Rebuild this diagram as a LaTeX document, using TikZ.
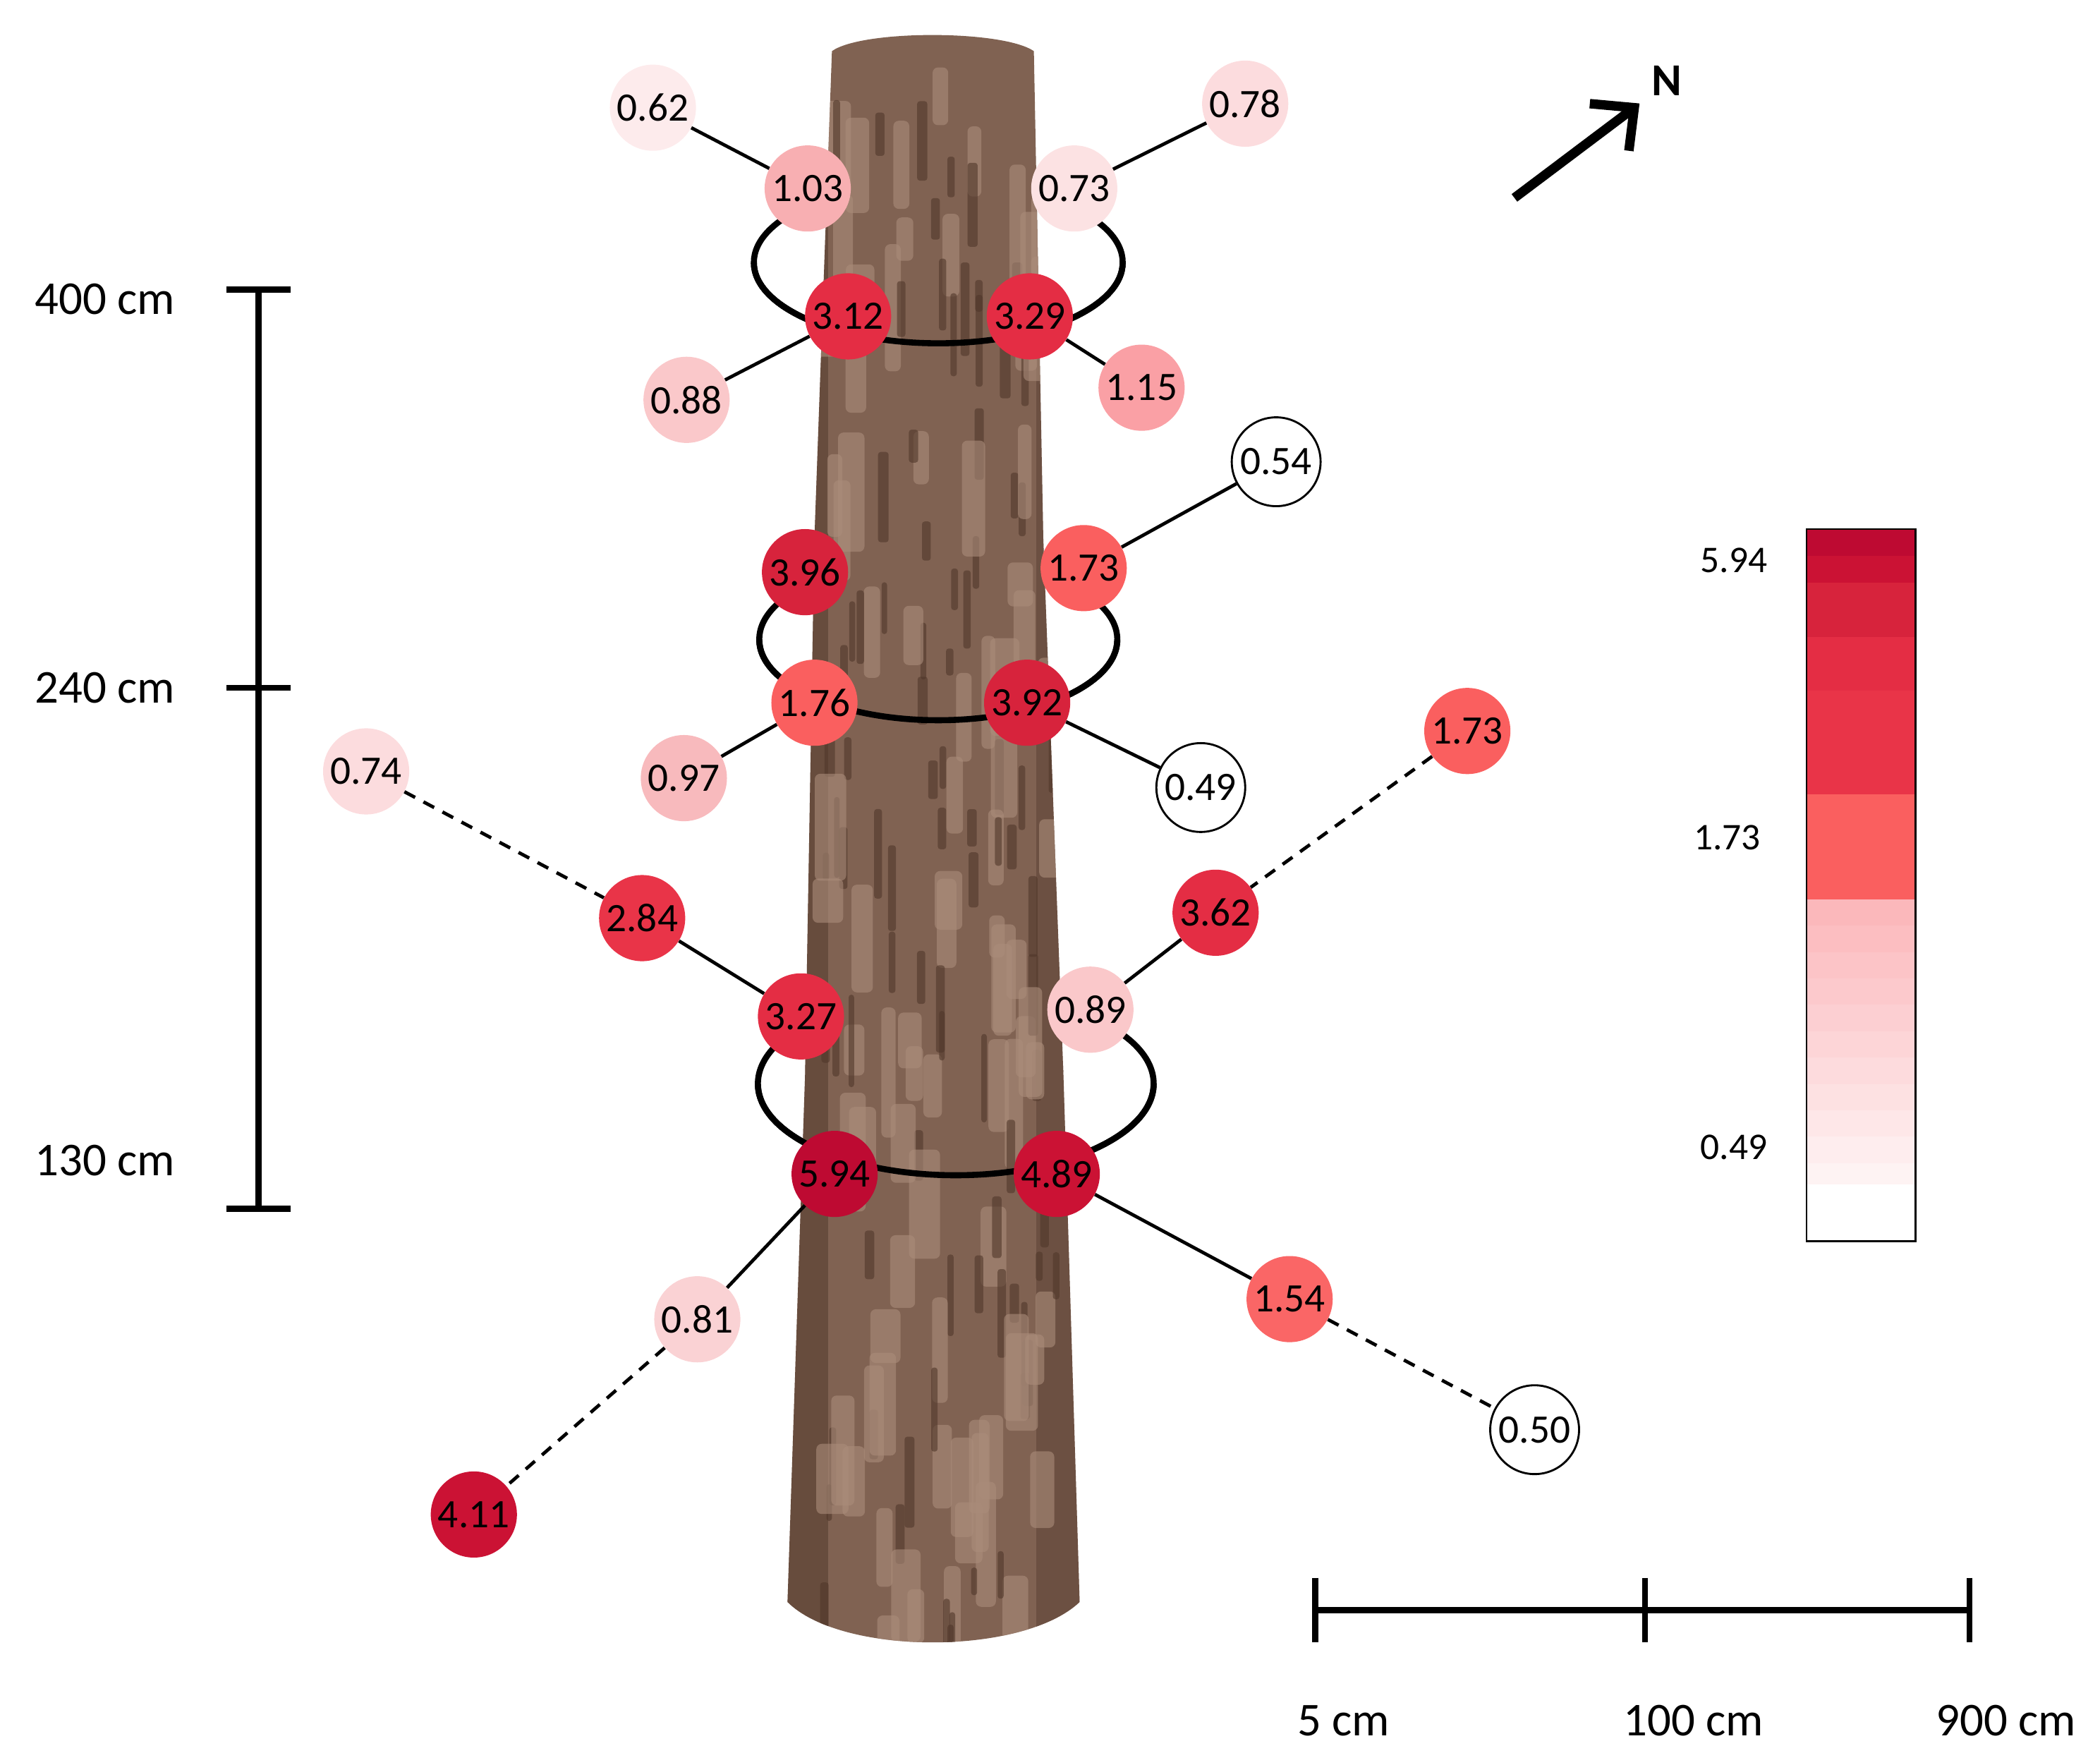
\documentclass[tikz,border=0pt]{standalone}
\usepackage{fontspec}
\setmainfont{Carlito}
\begin{document}
\begin{tikzpicture}[x=1pt,y=-1pt,
  v/.style={circle,minimum size=64pt,inner sep=0pt,font=\fontsize{30}{32}\selectfont},
  wb/.style={v,draw=black,line width=1.5pt,fill=white,minimum size=66pt},
  ln/.style={line width=2.5pt},
  dl/.style={line width=2.5pt,dash pattern=on 9pt off 7pt},
  ring/.style={line width=4.5pt},
  bar/.style={line width=4.5pt},
  lab/.style={font=\fontsize{35}{37}\selectfont}]
\definecolor{c594}{RGB}{190,10,50}
\definecolor{c489}{RGB}{203,18,52}
\definecolor{c39}{RGB}{215,35,60}
\definecolor{c33}{RGB}{228,45,68}
\definecolor{c28}{RGB}{233,52,72}
\definecolor{c17}{RGB}{250,95,95}
\definecolor{c15}{RGB}{250,102,102}
\definecolor{c115}{RGB}{250,160,165}
\definecolor{c103}{RGB}{248,175,178}
\definecolor{c097}{RGB}{248,186,189}
\definecolor{c088}{RGB}{250,200,202}
\definecolor{c081}{RGB}{250,210,212}
\definecolor{c076}{RGB}{252,220,222}
\definecolor{c073}{RGB}{252,226,227}
\definecolor{c062}{RGB}{253,235,236}
\definecolor{bark}{RGB}{128,98,82}
\definecolor{barkd}{RGB}{80,55,42}
\definecolor{barkl}{RGB}{170,140,122}
\useasboundingbox (0,0) rectangle (1560,1302);
% rings back
\draw[ring] (697,195) ellipse (137 and 60);
\draw[ring] (697,475) ellipse (133 and 60);
\draw[ring] (710,805) ellipse (147 and 68);
% trunk
\fill[bark] (618,38) .. controls (640,22) and (745,22) .. (768,38)
  -- (775,400) -- (790,800) -- (802,1190)
  .. controls (760,1230) and (625,1230) .. (585,1190)
  -- (598,800) -- (605,400) -- cycle;
\begin{scope}
\clip (618,38) .. controls (640,22) and (745,22) .. (768,38)
  -- (775,400) -- (790,800) -- (802,1190)
  .. controls (760,1230) and (625,1230) .. (585,1190)
  -- (598,800) -- (605,400) -- cycle;
\fill[barkd,opacity=0.5] (570,0) rectangle (615,1250);
\fill[barkd,opacity=0.4] (770,0) rectangle (815,1250);
\pgfmathsetseed{7}
\foreach \i in {1,...,90}{
  \pgfmathsetmacro{\xx}{600+rnd*190}
  \pgfmathsetmacro{\yy}{30+rnd*1180}
  \pgfmathsetmacro{\hh}{30+rnd*70}
  \fill[barkl,opacity=0.6,rounded corners=4pt] (\xx,\yy) rectangle ++(10+rnd*14,\hh);
  \pgfmathsetmacro{\xd}{600+rnd*190}
  \pgfmathsetmacro{\yd}{30+rnd*1180}
  \fill[barkd,opacity=0.6,rounded corners=2pt] (\xd,\yd) rectangle ++(4+rnd*4,20+rnd*50);
}
\end{scope}
% ring fronts
\draw[ring] (560,195) arc[start angle=180,end angle=0,x radius=137,y radius=60];
\draw[ring] (564,475) arc[start angle=180,end angle=0,x radius=133,y radius=60];
\draw[ring] (563,805) arc[start angle=180,end angle=0,x radius=147,y radius=68];
% nodes
\node[v,fill=c062] (a1) at (485,80) {0.62};
\node[v,fill=c103] (a2) at (600,140) {1.03};
\node[v,fill=c076] (a3) at (925,77) {0.78};
\node[v,fill=c073] (a4) at (798,140) {0.73};
\node[v,fill=c33] (a5) at (630,235) {3.12};
\node[v,fill=c33] (a6) at (765,235) {3.29};
\node[v,fill=c088] (a7) at (510,297) {0.88};
\node[v,fill=c115] (a8) at (848,288) {1.15};
\node[wb] (b1) at (948,343) {0.54};
\node[v,fill=c39] (b2) at (598,425) {3.96};
\node[v,fill=c17] (b3) at (805,422) {1.73};
\node[v,fill=c17] (b4) at (605,522) {1.76};
\node[v,fill=c39] (b5) at (763,522) {3.92};
\node[v,fill=c097] (b6) at (508,578) {0.97};
\node[wb] (b7) at (892,585) {0.49};
\node[v,fill=c076] (c1) at (272,573) {0.74};
\node[v,fill=c28] (c2) at (477,682) {2.84};
\node[v,fill=c33] (c3) at (595,755) {3.27};
\node[v,fill=c17] (c4) at (1090,543) {1.73};
\node[v,fill=c33] (c5) at (903,678) {3.62};
\node[v,fill=c088] (c6) at (810,750) {0.89};
\node[v,fill=c594] (c7) at (620,872) {5.94};
\node[v,fill=c489] (c8) at (785,872) {4.89};
\node[v,fill=c081] (c9) at (518,980) {0.81};
\node[v,fill=c489] (c10) at (352,1125) {4.11};
\node[v,fill=c15] (c11) at (958,965) {1.54};
\node[wb] (c12) at (1140,1062) {0.50};
% connectors
\draw[ln] (a1) -- (a2); \draw[ln] (a3) -- (a4);
\draw[ln] (a5) -- (a7); \draw[ln] (a6) -- (a8);
\draw[ln] (b3) -- (b1); \draw[ln] (b4) -- (b6); \draw[ln] (b5) -- (b7);
\draw[dl] (c1) -- (c2); \draw[ln] (c2) -- (c3);
\draw[dl] (c4) -- (c5); \draw[ln] (c5) -- (c6);
\draw[ln] (c7) -- (c9); \draw[dl] (c9) -- (c10);
\draw[ln] (c8) -- (c11); \draw[dl] (c11) -- (c12);
% vertical scale
\coordinate (s1) at (192,215); \coordinate (s2) at (192,898);
\draw[bar] (s1) -- (s2);
\draw[bar] (168,215) -- (216,215);
\draw[bar] (168,511) -- (216,511);
\draw[bar] (168,898) -- (216,898);
\node[lab] (l1) at (78,222) {400 cm};
\node[lab] (l2) at (78,511) {240 cm};
\node[lab] (l3) at (78,862) {130 cm};
% horizontal scale
\draw[bar] (977,1196) -- (1463,1196);
\draw[bar] (977,1172) -- (977,1220);
\draw[bar] (1222,1172) -- (1222,1220);
\draw[bar] (1463,1172) -- (1463,1220);
\node[lab] (h1) at (998,1278) {5 cm};
\node[lab] (h2) at (1258,1278) {100 cm};
\node[lab] (h3) at (1490,1278) {900 cm};
% north arrow
\coordinate (n1) at (1125,147); \coordinate (n2) at (1214,80);
\draw[line width=7pt] (n1) -- (n2);
\draw[line width=7pt,line join=miter] (1181,77) -- (1214,80) -- (1210,112);
\node[font=\fontsize{34}{36}\selectfont\bfseries] (N) at (1238,60) {N};
% colour bar
\foreach \t/\c in {0/c594,1/c489,2/c39,3/c39,4/c33,5/c33,6/c28,7/c28,8/c28,9/c28}
  \fill[\c] (1342,393+\t*20) rectangle (1423,413+\t*20);
\fill[c17] (1342,590) rectangle (1423,668);
\foreach \t in {0,...,12}{
  \pgfmathsetmacro{\m}{75-\t*6.2}
  \fill[c115!\m!white] (1342,668+\t*19.6) rectangle (1423,688+\t*19.6);
}
\fill[white] (1342,880) rectangle (1423,922);
\draw[line width=1.5pt] (1342,393) rectangle (1423,922);
\node[font=\fontsize{28}{30}\selectfont] (k1) at (1288,416) {5.94};
\node[font=\fontsize{28}{30}\selectfont] (k2) at (1283,622) {1.73};
\node[font=\fontsize{28}{30}\selectfont] (k3) at (1288,852) {0.49};
\end{tikzpicture}
\end{document}
